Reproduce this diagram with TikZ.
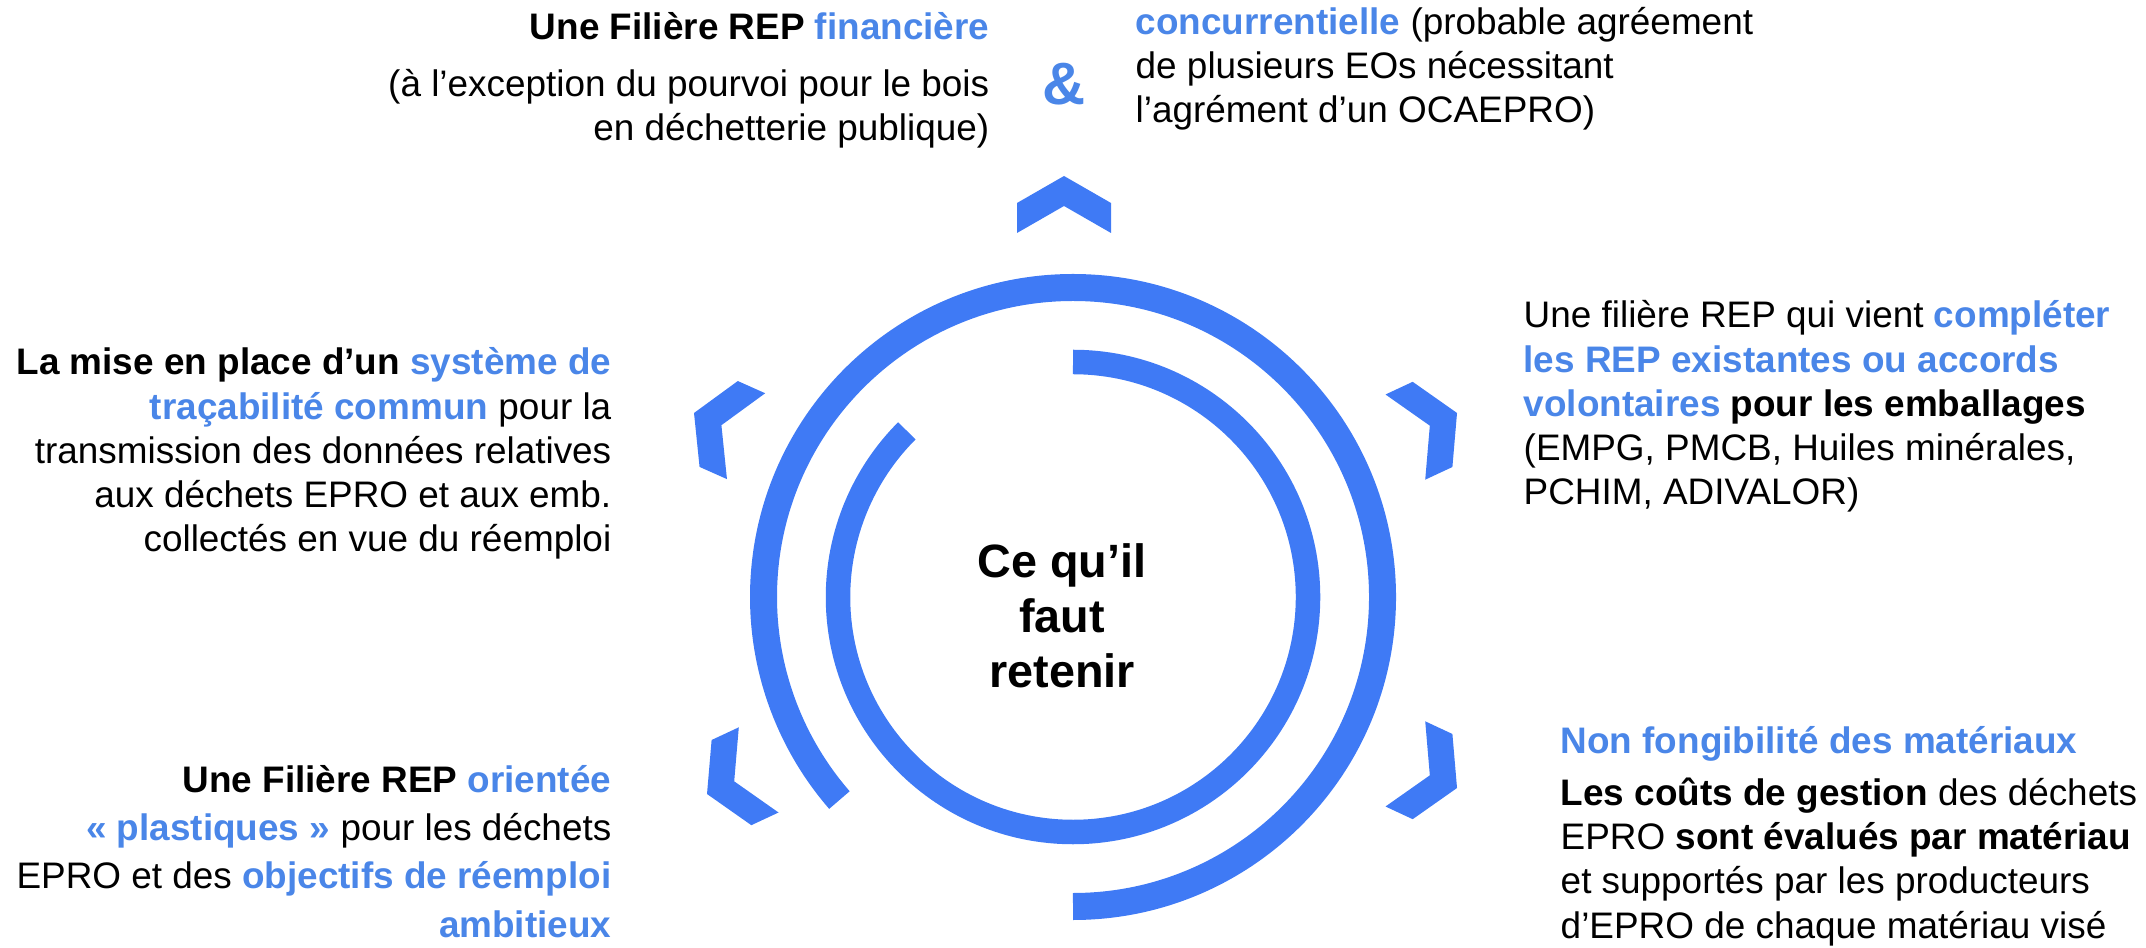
\documentclass[tikz,border=0pt]{standalone}
\usepackage{fontspec}
\setmainfont{Liberation Sans}
\usepackage{xcolor}
\usetikzlibrary{positioning}

\definecolor{repblue}{RGB}{63,122,245}
\definecolor{txtblue}{RGB}{74,134,232}
\newcommand{\hl}[1]{\textcolor{txtblue}{\textbf{#1}}}

\begin{document}
\begin{tikzpicture}[
  every node/.style={font=\fontsize{10.5}{12.6}\selectfont, inner sep=0pt},
  ring/.style={draw=repblue},
  chev/.style={fill=repblue, draw=none},
  txtr/.style={align=right, anchor=base east},
  txtl/.style={align=left, anchor=base west}]
 \useasboundingbox (0,0) rectangle (21.46,-9.48);
 \coordinate (ctr) at (10.73,-5.97);
 % two open rings
 \draw[ring, line width=2.7mm] ([shift={(-90:3.095)}]ctr) arc[start angle=-90, end angle=221, radius=3.095];
 \draw[ring, line width=2.45mm] ([shift={(90:2.35)}]ctr) arc[start angle=90, end angle=-225, radius=2.35];
 % chevrons round the rings
 \foreach \x/\y/\r in {10.64/-1.76/0, 14.57/-4.13/-65, 14.57/-7.88/-115, 7.07/-7.94/115, 6.94/-4.13/66}
   \fill[chev, shift={(\x,\y)}, rotate=\r] (0,0) -- (0.47,-0.27) -- (0.47,-0.57) -- (0,-0.30) -- (-0.47,-0.57) -- (-0.47,-0.27) -- cycle;
 % centre
 \node[font=\bfseries\fontsize{13.3}{15.6}\selectfont, align=center] (core) at (10.62,-6.16) {Ce qu’il\\faut\\retenir};
 % texts (anchored on their last line)
 \node[txtr] (fin) at (9.90,-1.41) {\textbf{Une Filière REP} \hl{financière}\\[0.13cm](à l’exception du pourvoi pour le bois\\en déchetterie publique)};
 \node[font=\bfseries\fontsize{17}{20}\selectfont, text=txtblue] (amp) at (10.64,-0.84) {\&};
 \node[txtl] (conc) at (11.35,-1.23) {\hl{concurrentielle} (probable agréement\\de plusieurs EOs nécessitant\\l’agrément d’un OCAEPRO)};
 \node[txtl] (compl) at (15.23,-5.05) {Une filière REP qui vient \hl{compléter}\\\hl{les REP existantes ou accords}\\\hl{volontaires} \textbf{pour les emballages}\\(EMPG, PMCB, Huiles minérales,\\PCHIM, ADIVALOR)};
 \node[txtr] (trac) at (6.12,-5.52) {\textbf{La mise en place d’un} \hl{système de}\\\hl{traçabilité commun} pour la\\transmission des données relatives\\aux déchets EPRO et aux emb.\\collectés en vue du réemploi};
 \node[txtr] (plast) at (6.12,-9.37) {\textbf{Une Filière REP} \hl{orientée}\\[0.04cm]\hl{« plastiques »} pour les déchets\\[0.04cm]EPRO et des \hl{objectifs de réemploi}\\[0.04cm]\hl{ambitieux}};
 \node[txtl] (fong) at (15.60,-9.38) {\hl{Non fongibilité des matériaux}\\[0.07cm]\textbf{Les coûts de gestion} des déchets\\EPRO \textbf{sont évalués par matériau}\\et supportés par les producteurs\\d’EPRO de chaque matériau visé};
\end{tikzpicture}
\end{document}
